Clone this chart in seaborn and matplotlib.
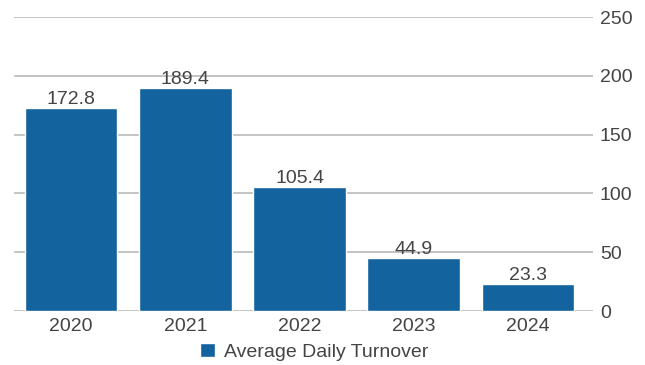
import matplotlib
matplotlib.use("Agg")
import matplotlib.pyplot as plt
import seaborn as sns
import pandas as pd

years = ["2020", "2021", "2022", "2023", "2024"]
turnover = [172.8, 189.4, 105.4, 44.9, 23.3]
series_name = "Average Daily Turnover"
y_ticks = [0, 50, 100, 150, 200, 250]

bar_color = "#12639e"
text_color = "#444444"
grid_color = "#c4c4c4"

sns.set_theme(style="white")
plt.rcParams["font.family"] = ["Liberation Sans", "DejaVu Sans"]

df = pd.DataFrame({"year": years, "value": turnover, "series": series_name})

fig = plt.figure(figsize=(6.45, 3.65), dpi=100)
# plot area spans to the right-hand label column; gridlines run to its edge
ax = fig.add_axes([14 / 645, 1 - 311 / 365, (593 - 14) / 645, (311 - 17) / 365])

sns.barplot(data=df, x="year", y="value", hue="series", palette=[bar_color],
            width=0.81, saturation=1, ax=ax, zorder=3, legend=True)

ax.set_xlim(-0.5, 4.5 + 8 / 114.25)
ax.set_ylim(0, 250)
ax.set_yticks(y_ticks)
ax.yaxis.tick_right()
ax.grid(axis="y", color=grid_color, linewidth=1.4, zorder=0)
ax.tick_params(axis="y", which="both", right=True, length=0,
               labelsize=14, labelcolor=text_color, pad=5)
ax.tick_params(axis="x", bottom=False, labelsize=14, labelcolor=text_color, pad=-1)
for s in ax.spines.values():
    s.set_visible(False)
ax.set_xlabel("")
ax.set_ylabel("")

for container in ax.containers:
    ax.bar_label(container, labels=[f"{v:.1f}" for v in turnover],
                 fontsize=14, color=text_color, padding=0)

handles, labels = ax.get_legend_handles_labels()
ax.get_legend().remove()
fig.legend(handles, labels, loc="center", bbox_to_anchor=(314.5 / 645, 1 - 352 / 365),
           frameon=False, fontsize=14, handlelength=0.75, handleheight=0.75,
           handletextpad=0.5, labelcolor=text_color, borderpad=0, borderaxespad=0)

fig.savefig("out.png", dpi=100)
